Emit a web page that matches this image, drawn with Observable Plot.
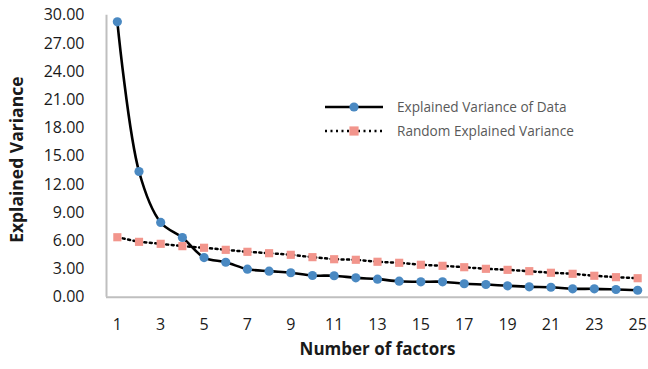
<!DOCTYPE html>
<html>
<head>
<meta charset="utf-8">
<script src="https://cdn.jsdelivr.net/npm/d3@7"></script>
<script src="https://cdn.jsdelivr.net/npm/@observablehq/plot@0.6"></script>
<style>
  html, body { margin: 0; padding: 0; background: #fff; }
  #wrap { position: relative; width: 648px; height: 369px; font-family: "Open Sans", sans-serif; }
  #legend { position: absolute; left: 325px; top: 95px; font-size: 13.6px; color: #595959; line-height: 24px; }
  #legend .row { display: flex; align-items: center; height: 24px; }
  #legend svg { margin-right: 14px; }
</style>
</head>
<body>
<div id="wrap"></div>
<script>
const factors = [1,2,3,4,5,6,7,8,9,10,11,12,13,14,15,16,17,18,19,20,21,22,23,24,25];
const explainedData = [29.3,13.37,7.95,6.35,4.22,3.72,2.98,2.77,2.6,2.31,2.28,2.06,1.92,1.7,1.64,1.64,1.43,1.35,1.21,1.1,1.06,0.89,0.89,0.82,0.74];
const randomExplained = [6.38,5.89,5.68,5.43,5.26,5.04,4.83,4.68,4.51,4.26,4.04,3.98,3.77,3.66,3.45,3.34,3.19,3.02,2.91,2.77,2.6,2.49,2.28,2.13,2.02];
const yTicks = [0,3,6,9,12,15,18,21,24,27,30];
const xTicks = [1,3,5,7,9,11,13,15,17,19,21,23,25];
const seriesNames = ["Explained Variance of Data", "Random Explained Variance"];
const xTitle = "Number of factors";
const yTitle = "Explained Variance";

const blue = "#4a89c2";
const pink = "#f2958c";
const axisGrey = "#bfbfbf";

const dataRows = factors.map((f, i) => ({x: f, y: explainedData[i]}));
const randRows = factors.map((f, i) => ({x: f, y: randomExplained[i]}));

const chart = Plot.plot({
  width: 648,
  height: 369,
  marginLeft: 106,
  marginRight: 0,
  marginTop: 14.7,
  marginBottom: 72.3,
  style: {fontFamily: "'Open Sans', sans-serif", fontSize: "16px", color: "#1a1a1a", background: "#fff"},
  x: {domain: [0.5, 25.5]},
  y: {domain: [0, 30]},
  marks: [
    Plot.axisY({ticks: yTicks, tickFormat: d3.format(".2f"), tickSize: 0, tickPadding: 22, label: null, fontSize: 16}),
    Plot.axisX({ticks: xTicks, tickFormat: d => String(d), tickSize: 0, tickPadding: 21, label: null, fontSize: 16}),
    Plot.ruleX([0.5], {y1: 0, y2: 30, stroke: axisGrey, strokeWidth: 2}),
    Plot.ruleY([0], {stroke: axisGrey, strokeWidth: 2}),
    Plot.line(randRows, {x: "x", y: "y", stroke: "#000", strokeWidth: 2.5, strokeDasharray: "2 3.5"}),
    Plot.line(dataRows, {x: "x", y: "y", stroke: "#000", strokeWidth: 2.6, curve: "catmull-rom"}),
    Plot.dot(randRows, {x: "x", y: "y", symbol: "square", r: 4.6, fill: pink, stroke: "none"}),
    Plot.dot(dataRows, {x: "x", y: "y", r: 4.6, fill: blue, stroke: "none"}),
    Plot.text([yTitle], {frameAnchor: "left", textAnchor: "middle", rotate: -90, dx: -89, dy: 3.5, fontSize: 17.5, fontWeight: "bold", fill: "#1a1a1a"}),
    Plot.text([xTitle], {frameAnchor: "bottom", textAnchor: "middle", dy: 57.5, fontSize: 17, fontWeight: "bold", fill: "#1a1a1a"})
  ]
});

const wrap = document.getElementById("wrap");
wrap.appendChild(chart);

const legend = document.createElement("div");
legend.id = "legend";
legend.innerHTML = `
  <div class="row"><svg width="58" height="12"><line x1="0" y1="6" x2="58" y2="6" stroke="#000" stroke-width="2.6"/><circle cx="29" cy="6" r="4.6" fill="${blue}"/></svg><span>${seriesNames[0]}</span></div>
  <div class="row"><svg width="58" height="12"><line x1="0" y1="6" x2="58" y2="6" stroke="#000" stroke-width="2.5" stroke-dasharray="2 3.5"/><rect x="24.4" y="1.4" width="9.2" height="9.2" fill="${pink}"/></svg><span>${seriesNames[1]}</span></div>
`;
wrap.appendChild(legend);
</script>
</body>
</html>
